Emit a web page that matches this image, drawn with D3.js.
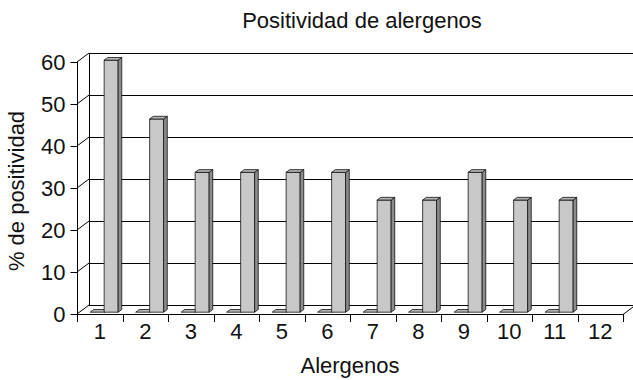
<!DOCTYPE html>
<html>
<head>
<meta charset="utf-8">
<script src="https://cdn.jsdelivr.net/npm/d3@7"></script>
<style>
  html, body { margin: 0; padding: 0; background: #fff; }
  svg { display: block; font-family: "Liberation Sans", Arial, sans-serif; }
</style>
</head>
<body>
<div id="chart"></div>
<script>
// ---------- Data ----------
const categories = ["1", "2", "3", "4", "5", "6", "7", "8", "9", "10", "11", "12"];
const serieCero  = [0, 0, 0, 0, 0, 0, 0, 0, 0, 0, 0, null];        // flat series
const positividad = [60, 46, 33.3, 33.3, 33.3, 33.3, 26.7, 26.7, 33.3, 26.7, 26.7, null];
const yTicks = [0, 10, 20, 30, 40, 50, 60];

// ---------- Layout ----------
const W = 633, H = 380;
const X0 = 77, X1 = 623;      // front floor edge
const Y0 = 314, Ytop = 62;    // front plane 0 and 60
const DX = 12, DY = 9;        // depth offset of the back wall
const FS = 22;

const svg = d3.select("#chart").append("svg").attr("width", W).attr("height", H);

const x = d3.scaleBand().domain(categories).range([X0, X1]).padding(0);
const y = d3.scaleLinear().domain([0, 60]).range([Y0, Ytop]);
const bw = x.bandwidth();

// ---------- Back wall gridlines + side wall ----------
const walls = svg.append("g").attr("stroke", "#000").attr("stroke-width", 1).attr("fill", "none");
walls.selectAll("line.grid")
  .data(yTicks)
  .join("line")
  .attr("class", "grid")
  .attr("x1", X0 + DX).attr("x2", W + 5)
  .attr("y1", d => y(d) - DY + 0.5).attr("y2", d => y(d) - DY + 0.5);
walls.selectAll("line.diag")
  .data(yTicks)
  .join("line")
  .attr("class", "diag")
  .attr("x1", X0).attr("y1", d => y(d))
  .attr("x2", X0 + DX).attr("y2", d => y(d) - DY);
walls.append("line")
  .attr("x1", X0 + DX + 0.5).attr("x2", X0 + DX + 0.5)
  .attr("y1", y(60) - DY).attr("y2", y(0) - DY);
// floor
walls.append("path")
  .attr("d", `M${X0},${Y0 + 0.5}L${X1},${Y0 + 0.5}L${X1 + DX},${Y0 - DY + 0.5}`);

// ---------- Bars (3D columns) ----------
const F0 = 0.2, F1 = 0.5, BW = 14;
function barShapes(vals, offset) {
  return vals.map((v, i) => ({ v, cat: categories[i], offset })).filter(d => d.v != null);
}
const ddx = (F1 - F0) * DX, ddy = (F1 - F0) * DY;

function drawBars(data) {
  const g = svg.append("g").attr("stroke", "#111").attr("stroke-width", 0.8).attr("stroke-linejoin", "round");
  const bars = g.selectAll("g.bar").data(data).join("g").attr("class", "bar");
  const left = d => x(d.cat) + d.offset + F0 * DX;
  const right = d => left(d) + BW;
  const top = d => y(d.v) - F0 * DY;
  const bot = d => y(0) - F0 * DY;
  bars.append("rect")
    .attr("x", left).attr("y", top)
    .attr("width", BW).attr("height", d => bot(d) - top(d))
    .attr("fill", "#c8c8c8");
  bars.append("path")
    .attr("fill", "#8c8c8c")
    .attr("d", d => `M${right(d)},${top(d)}L${right(d) + ddx},${top(d) - ddy}L${right(d) + ddx},${bot(d) - ddy}L${right(d)},${bot(d)}Z`);
  bars.append("path")
    .attr("fill", "#b4b4b4")
    .attr("d", d => `M${left(d)},${top(d)}L${left(d) + ddx},${top(d) - ddy}L${right(d) + ddx},${top(d) - ddy}L${right(d)},${top(d)}Z`);
}
drawBars(barShapes(serieCero, bw / 2 - 12));
drawBars(barShapes(positividad, bw / 2 + 2));

// ---------- Axes ----------
const yAxis = svg.append("g")
  .attr("transform", `translate(${X0 + 0.5},0)`)
  .call(d3.axisLeft(y).tickValues(yTicks).tickSize(7).tickPadding(5));
yAxis.select(".domain").attr("stroke", "#000").attr("d", `M0,${Y0}V${y(60)}`);
yAxis.selectAll("text").attr("font-size", FS).attr("font-family", "Liberation Sans, Arial, sans-serif").attr("fill", "#111");

const xAxis = svg.append("g")
  .attr("transform", `translate(0,${Y0 + 0.5})`)
  .call(d3.axisBottom(x).tickSize(0).tickPadding(9));
xAxis.select(".domain").remove();
xAxis.selectAll("text").attr("font-size", FS).attr("font-family", "Liberation Sans, Arial, sans-serif").attr("fill", "#111");
// boundary ticks
svg.append("g").attr("stroke", "#000")
  .selectAll("line")
  .data(categories.concat(["end"]))
  .join("line")
  .attr("x1", (d, i) => Math.round(X0 + i * bw) + 0.5)
  .attr("x2", (d, i) => Math.round(X0 + i * bw) + 0.5)
  .attr("y1", Y0).attr("y2", Y0 + 8);

// ---------- Titles ----------
svg.append("text").attr("x", 362).attr("y", 28).attr("text-anchor", "middle")
  .attr("font-size", FS).attr("fill", "#111").text("Positividad de alergenos");
svg.append("text").attr("x", 350).attr("y", 373).attr("text-anchor", "middle")
  .attr("font-size", FS).attr("fill", "#111").text("Alergenos");
svg.append("text").attr("transform", "translate(24,191) rotate(-90)").attr("text-anchor", "middle")
  .attr("font-size", FS).attr("fill", "#111").text("% de positividad");
</script>
</body>
</html>
